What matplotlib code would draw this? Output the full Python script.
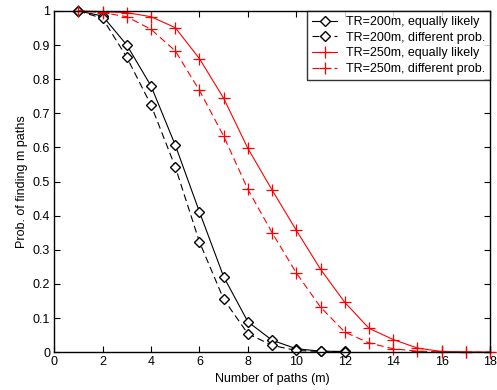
import matplotlib
matplotlib.use("Agg")
import matplotlib.pyplot as plt

plt.rcParams['font.family'] = ['Liberation Sans', 'DejaVu Sans']

# Datos
m_200 = [1, 2, 3, 4, 5, 6, 7, 8, 9, 10, 11, 12]
p_200_eq = [1.0, 0.985, 0.90, 0.78, 0.607, 0.411, 0.221, 0.089, 0.035, 0.01, 0.003, 0.002]
p_200_dif = [1.0, 0.978, 0.864, 0.724, 0.543, 0.323, 0.155, 0.054, 0.02, 0.005, 0.002, 0.001]

m_250 = [1, 2, 3, 4, 5, 6, 7, 8, 9, 10, 11, 12, 13, 14, 15, 16, 17, 18]
p_250_eq = [1.0, 0.998, 0.995, 0.983, 0.951, 0.86, 0.744, 0.597, 0.475, 0.357, 0.243, 0.146,
            0.07, 0.037, 0.012, 0.002, 0.001, 0.0]
p_250_dif = [1.0, 0.995, 0.983, 0.946, 0.883, 0.767, 0.633, 0.477, 0.35, 0.232, 0.132, 0.059,
             0.027, 0.01, 0.003, 0.001, 0.0, 0.0]

etiquetas = ['TR=200m, equally likely', 'TR=200m, different prob.',
             'TR=250m, equally likely', 'TR=250m, different prob.']

fig = plt.figure(figsize=(4.97, 3.9), dpi=100)
ax = fig.add_axes([0.109, 0.097, 0.877, 0.875])

guiones = (6.3, 3.6)
ax.plot(m_200, p_200_eq, '-', color='black', lw=0.8, marker='D', ms=5.5, mfc='white', mec='black',
        clip_on=False, label=etiquetas[0])
ax.plot(m_200, p_200_dif, '--', dashes=guiones, color='black', lw=0.8, marker='D', ms=5.5, mfc='white',
        mec='black', clip_on=False, label=etiquetas[1])
ax.plot(m_250, p_250_eq, '-', color='red', lw=0.8, marker='+', ms=8, mew=0.9, clip_on=False, label=etiquetas[2])
ax.plot(m_250, p_250_dif, '--', dashes=guiones, color='red', lw=0.8, marker='+', ms=8, mew=0.9,
        clip_on=False, label=etiquetas[3])

ax.set_xlim(0, 18)
ax.set_ylim(0, 1)
ax.set_xticks(range(0, 19, 2))
ax.set_yticks([i / 10 for i in range(11)])
ax.set_yticklabels(['0', '0.1', '0.2', '0.3', '0.4', '0.5', '0.6', '0.7', '0.8', '0.9', '1'])
ax.tick_params(direction='in', top=True, right=True, labelsize=9, length=4, pad=3)
for s in ax.spines.values():
    s.set_linewidth(1.0)

ax.set_xlabel('Number of paths (m)', fontsize=9, labelpad=3)
ax.set_ylabel('Prob. of finding m paths', fontsize=9, labelpad=3)

leg = ax.legend(loc='upper right', fontsize=9, frameon=True, fancybox=False, borderaxespad=0,
                handlelength=2.0, borderpad=0.4, labelspacing=0.3, handletextpad=0.7)
leg.get_frame().set_edgecolor('black')
leg.get_frame().set_linewidth(1.0)
leg.set_zorder(5)

fig.savefig('out.png', dpi=100)
